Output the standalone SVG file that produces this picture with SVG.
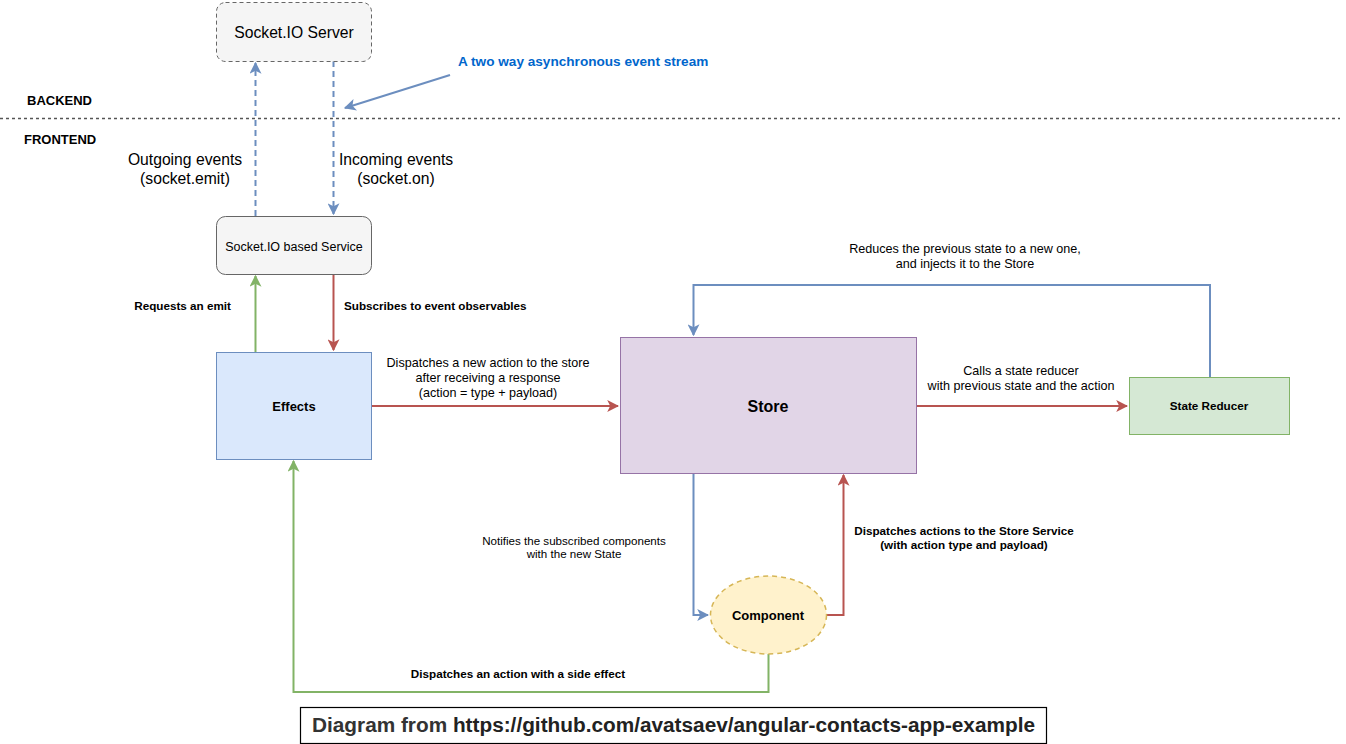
<svg xmlns="http://www.w3.org/2000/svg" width="1346" height="744" viewBox="0 0 1346 744">
<style>
text{font-family:"Liberation Sans",Arial,sans-serif;fill:#000}
.b{font-weight:bold}
.s12{font-size:12.6px}
.b.s12{font-size:11.7px}
.s11{font-size:11.6px}
.s13{font-size:13px}
.s15{font-size:15.7px}
.mid{text-anchor:middle}
.blue{stroke:#6c8ebf;fill:none;stroke-width:2}
.red{stroke:#b85450;fill:none;stroke-width:2}
.green{stroke:#82b366;fill:none;stroke-width:2}
</style>
<defs>
<marker id="ar" viewBox="0 0 10 10" refX="9" refY="5" markerWidth="12" markerHeight="12" orient="auto" markerUnits="userSpaceOnUse"><path d="M0,0 L10,5 L0,10 L2.5,5 Z" fill="#b85450"/></marker>
<marker id="ag" viewBox="0 0 10 10" refX="9" refY="5" markerWidth="12" markerHeight="12" orient="auto" markerUnits="userSpaceOnUse"><path d="M0,0 L10,5 L0,10 L2.5,5 Z" fill="#82b366"/></marker>
<marker id="ab2" viewBox="0 0 10 10" refX="9" refY="5" markerWidth="12" markerHeight="12" orient="auto" markerUnits="userSpaceOnUse"><path d="M0,0 L10,5 L0,10 L2.5,5 Z" fill="#6c8ebf"/></marker>
</defs>
<rect width="1346" height="744" fill="#fff"/>

<g id="separator">
<line x1="0" y1="118.5" x2="1340" y2="118.5" stroke="#555" stroke-width="1.5" stroke-dasharray="3,3"/>
<text x="27" y="105" class="b s13">BACKEND</text>
<text x="24" y="144" class="b s13">FRONTEND</text>
</g>

<g id="connectors">
<path class="blue" d="M255.5,216 V63" stroke-dasharray="6,4" marker-end="url(#ab2)"/>
<path class="blue" d="M333.5,61 V214" stroke-dasharray="6,4" marker-end="url(#ab2)"/>
<path class="blue" d="M450,75 L345,108" marker-end="url(#ab2)"/>
<path class="green" d="M255.5,352 V276" marker-end="url(#ag)"/>
<path class="red" d="M333.5,274 V350" marker-end="url(#ar)"/>
<path class="red" d="M371,406 H618" marker-end="url(#ar)"/>
<path class="red" d="M916,406 H1127" marker-end="url(#ar)"/>
<path class="blue" d="M1210,377 V285 H693.5 V335" marker-end="url(#ab2)"/>
<path class="blue" d="M693.5,473 V615 H708" marker-end="url(#ab2)"/>
<path class="red" d="M826,615 H843.5 V475" marker-end="url(#ar)"/>
<path class="green" d="M768.5,654 V692 H293.5 V461" marker-end="url(#ag)"/>
</g>

<g id="labels">
<text x="458" y="66" class="b" style="font-size:13.6px;fill:#0066cc">A two way asynchronous event stream</text>
<text x="185" y="165" class="s15 mid">Outgoing events</text>
<text x="185" y="184" class="s15 mid">(socket.emit)</text>
<text x="396" y="165" class="s15 mid">Incoming events</text>
<text x="396" y="184" class="s15 mid">(socket.on)</text>
<text x="231" y="310" class="b s12" text-anchor="end">Requests an emit</text>
<text x="344" y="310" class="b s12">Subscribes to event observables</text>
<text x="488" y="367" class="s12 mid">Dispatches a new action to the store</text>
<text x="488" y="382" class="s12 mid">after receiving a response</text>
<text x="488" y="397" class="s12 mid">(action = type + payload)</text>
<text x="1021" y="375" class="s12 mid">Calls a state reducer</text>
<text x="1021" y="390" class="s12 mid">with previous state and the action</text>
<text x="965" y="253" class="s12 mid">Reduces the previous state to a new one,</text>
<text x="965" y="268" class="s12 mid">and injects it to the Store</text>
<text x="574" y="545" class="s11 mid">Notifies the subscribed components</text>
<text x="574" y="558" class="s11 mid">with the new State</text>
<text x="964" y="535" class="b s12 mid">Dispatches actions to the Store Service</text>
<text x="964" y="549" class="b s12 mid">(with action type and payload)</text>
<text x="518" y="678" class="b s12 mid">Dispatches an action with a side effect</text>
</g>

<g id="socket-server">
<rect x="216.5" y="2.5" width="155" height="59" rx="9" fill="#f5f5f5" stroke="#666" stroke-dasharray="4,3"/>
<text x="294" y="38" class="s15 mid">Socket.IO Server</text>
</g>

<g id="socket-service">
<rect x="216.5" y="216.5" width="155" height="58" rx="9" fill="#f5f5f5" stroke="#666"/>
<text x="294" y="251" class="s13 mid" style="font-size:12.5px">Socket.IO based Service</text>
</g>

<g id="effects">
<rect x="216.5" y="352.5" width="155" height="107" fill="#dae8fc" stroke="#6c8ebf"/>
<text x="294" y="411" class="b s13 mid">Effects</text>
</g>

<g id="store">
<rect x="620.5" y="337.5" width="296" height="136" fill="#e1d5e7" stroke="#9673a6"/>
<text x="768" y="412" class="b mid" style="font-size:16px">Store</text>
</g>

<g id="state-reducer">
<rect x="1129.5" y="377.5" width="160" height="57" fill="#d5e8d4" stroke="#82b366"/>
<text x="1209" y="410" class="b s12 mid">State Reducer</text>
</g>

<g id="component">
<ellipse cx="768.5" cy="615" rx="58" ry="39" fill="#fff2cc" stroke="#d6b656" stroke-width="1.5" stroke-dasharray="5,4"/>
<text x="768" y="620" class="b s13 mid">Component</text>
</g>

<g id="caption">
<rect x="300.5" y="707.5" width="746" height="36" fill="#fff" stroke="#000" stroke-width="1.2"/>
<text x="312" y="732" style="font-family:'Liberation Sans',Arial,sans-serif;font-size:20px;font-weight:bold;fill:#222" textLength="723" lengthAdjust="spacingAndGlyphs"><tspan style="fill:#333">Diagram from </tspan>https://github.com/avatsaev/angular-contacts-app-example</text>
</g>
</svg>
